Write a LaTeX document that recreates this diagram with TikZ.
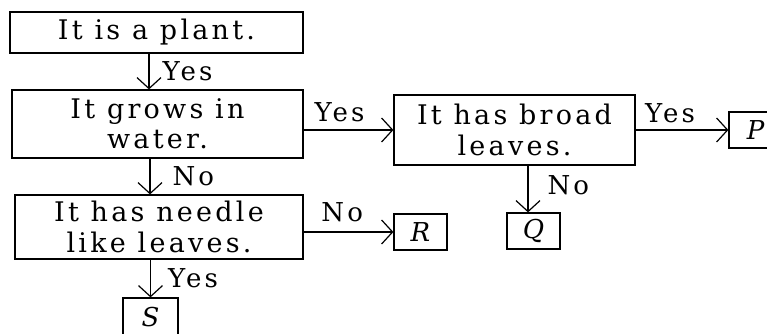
\documentclass[tikz,border=0pt]{standalone}
\usepackage{fontspec}
\setmainfont{DejaVu Serif}[LetterSpace=12]
\usetikzlibrary{arrows.meta}
\tikzset{
    tbox/.style = {draw=black, line width=1.2pt, align=center, inner sep=0pt, text centered, font=\fontsize{27}{30.5}\selectfont},
    qbox/.style = {tbox},
    abox/.style = {tbox, minimum width=53pt, minimum height=36pt, font=\fontsize{26}{28}\selectfont\itshape},
    ans/.style = {inner sep=0pt, font=\fontsize{26}{28}\selectfont},
    link/.style = {->, line width=1.2pt}
}

\begin{document}
\begin{tikzpicture}
            [>={Straight Barb[length=11pt, width=24pt]}, x=1pt, y=-1pt]

            \useasboundingbox (0,0) rectangle (767,334);

            % questions
            \node (plant) [qbox, minimum width=293pt, minimum height=41pt] at (156.5,32.5) {It is a plant.};
            \node (water) [qbox, minimum width=291pt, minimum height=68pt] at (157.5,124) {It grows in\\water.};
            \node (broad) [qbox, minimum width=241pt, minimum height=70pt] at (514.5,130) {It has broad\\leaves.};
            \node (needle) [qbox, minimum width=288pt, minimum height=64pt] at (159,227) {It has needle\\like leaves.};

            % answers
            \node (P) [abox] at (755.5,130) {P};
            \node (Q) [abox] at (533.5,231) {Q};
            \node (R) [abox] at (420.5,232) {R};
            \node (S) [abox, minimum height=38pt, minimum width=55pt] at (150.5,317) {S};

            \draw [link] ([xshift=-7.5pt]plant.south) -- ([xshift=-7.5pt]plant.south |- water.north)
                node [ans, midway, right=13pt] {Yes};
            \draw [link] (water.east |- broad.west) -- (broad.west)
                node [ans, pos=0.4, above=8pt] {Yes};
            \draw [link] (broad.east |- P.west) -- (P.west)
                node [ans, pos=0.37, above=7pt] {Yes};
            \draw [link] ([xshift=-7.5pt]water.south) -- ([xshift=-7.5pt]water.south |- needle.north)
                node [ans, midway, right=22pt] {No};
            \draw [link] ([xshift=13.5pt]broad.south) -- ([xshift=13.5pt]broad.south |- Q.north)
                node [ans, pos=0.42, right=19pt] {No};
            \draw [link] (needle.east |- R.west) -- (R.west)
                node [ans, pos=0.43, above=10pt] {No};
            \draw [link] (needle.south -| S.north) -- (S.north)
                node [ans, midway, right=17pt] {Yes};
\end{tikzpicture}
\end{document}
